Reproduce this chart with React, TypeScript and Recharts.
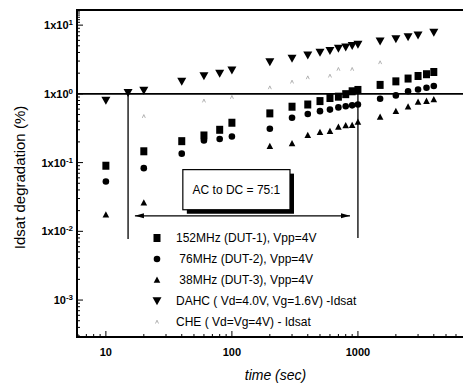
import React from 'react';
import { ComposedChart, Scatter, XAxis, YAxis, ReferenceLine, ReferenceArea, Legend } from 'recharts';

const FONT = "Arial, 'Liberation Sans', Helvetica, sans-serif";

// ---- data (time in sec, Idsat degradation in %) ----
const times152 = [10, 20, 40, 60, 80, 100, 200, 300, 400, 500, 600, 700, 800, 900, 1000, 1500, 2000, 2500, 3000, 3500, 4000];
const vals152 = [0.09, 0.146, 0.205, 0.248, 0.3, 0.38, 0.52, 0.65, 0.7, 0.785, 0.87, 0.91, 0.99, 1.09, 1.14, 1.35, 1.52, 1.67, 1.82, 1.93, 2.08];

const times76 = [10, 20, 40, 60, 80, 100, 200, 300, 400, 500, 600, 700, 800, 900, 1000, 1500, 2000, 2500, 3000, 3500, 4000];
const vals76 = [0.053, 0.083, 0.135, 0.21, 0.22, 0.24, 0.31, 0.45, 0.51, 0.56, 0.59, 0.635, 0.66, 0.68, 0.7, 0.85, 0.95, 1.09, 1.16, 1.23, 1.3];

const times38 = [10, 20, 200, 300, 400, 500, 600, 700, 800, 900, 1000, 1500, 2000, 2500, 3000, 3500, 4000];
const vals38 = [0.0174, 0.026, 0.173, 0.19, 0.25, 0.277, 0.286, 0.33, 0.347, 0.35, 0.39, 0.46, 0.56, 0.65, 0.76, 0.785, 0.83];

const timesDAHC = [10, 15, 20, 40, 60, 80, 100, 200, 300, 400, 500, 600, 700, 800, 900, 1000, 1500, 2000, 2500, 3000, 4000];
const valsDAHC = [0.8, 1.04, 1.12, 1.51, 1.82, 1.97, 2.2, 2.91, 3.27, 3.65, 3.99, 4.22, 4.57, 4.77, 4.99, 5.2, 5.84, 6.25, 6.68, 7.14, 7.82];

const timesCHE = [20, 60, 100, 200, 300, 400, 600, 700, 900, 1500];
const valsCHE = [0.47, 0.79, 0.89, 1.23, 1.49, 1.72, 1.82, 2.28, 2.28, 2.85];

// ---- axes ----
const xDomain = [5.9, 7750];
const yDomain = [0.00029, 16.6];
const xMajor = [10, 100, 1000];
const xTickLabels = ['10', '100', '1000'];
const xMinor = [6, 7, 8, 9, 20, 30, 40, 50, 60, 70, 80, 90, 200, 300, 400, 500, 600, 700, 800, 900, 2000, 3000, 4000, 5000, 6000, 7000];
const yMajor = [0.001, 0.01, 0.1, 1, 10];
const yLabelBase = ['10', '1x10', '1x10', '1x10', '1x10'];
const yLabelExp = ['-3', '-2', '-1', '0', '1'];
const yMinor = [
  0.0003, 0.0004, 0.0005, 0.0006, 0.0007, 0.0008, 0.0009,
  0.002, 0.003, 0.004, 0.005, 0.006, 0.007, 0.008, 0.009,
  0.02, 0.03, 0.04, 0.05, 0.06, 0.07, 0.08, 0.09,
  0.2, 0.3, 0.4, 0.5, 0.6, 0.7, 0.8, 0.9,
  2, 3, 4, 5, 6, 7, 8, 9, 11, 12, 13, 14, 15, 16,
];
const xTicks = [...xMajor, ...xMinor].sort((a, b) => a - b);
const yTicks = [...yMajor, ...yMinor].sort((a, b) => a - b);

// ---- annotations ----
const acBox = { x1: 40.8, x2: 289, y1: 0.0206, y2: 0.079, text: 'AC to DC = 75:1' };
const arrow = { x1: 17, x2: 865, y: 0.0168 };
const vLines = [
  { x: 15, yTop: 1, yBottom: 0.0077 },
  { x: 1000, yTop: 1, yBottom: 0.008 },
];

const zip = (t: number[], v: number[]) => t.map((time, i) => ({ time, value: v[i] }));
const d152 = zip(times152, vals152);
const d76 = zip(times76, vals76);
const d38 = zip(times38, vals38);
const dDAHC = zip(timesDAHC, valsDAHC);
const dCHE = zip(timesCHE, valsCHE);

const majorIndex = (arr: number[], v: number) => arr.findIndex((m) => Math.abs(m - v) / m < 1e-6);

// ---- marker shapes ----
const Square = ({ cx, cy }: any) => <rect x={cx - 3.5} y={cy - 4} width={7} height={8} fill="#000" />;
const Dot = ({ cx, cy }: any) => <circle cx={cx} cy={cy} r={3.3} fill="#000" />;
const TriUp = ({ cx, cy }: any) => (
  <path d={`M${cx},${cy - 3.5} L${cx + 3.3},${cy + 2.8} L${cx - 3.3},${cy + 2.8} Z`} fill="#000" />
);
const TriDown = ({ cx, cy }: any) => (
  <path d={`M${cx - 4.5},${cy - 3.8} L${cx + 4.5},${cy - 3.8} L${cx},${cy + 4.2} Z`} fill="#000" />
);
const CheMark = ({ cx, cy }: any) => (
  <path d={`M${cx - 1.5},${cy + 1.5} L${cx},${cy - 1.8} L${cx + 1.5},${cy + 1.5}`} fill="none" stroke="#aaa" strokeWidth={0.9} />
);

const legendItems = [
  { name: '152MHz (DUT-1), Vpp=4V', Shape: Square },
  { name: ' 76MHz (DUT-2), Vpp=4V', Shape: Dot },
  { name: ' 38MHz (DUT-3), Vpp=4V', Shape: TriUp },
  { name: 'DAHC ( Vd=4.0V, Vg=1.6V) -Idsat', Shape: TriDown },
  { name: 'CHE ( Vd=Vg=4V) - Idsat', Shape: CheMark },
];

// ---- ticks ----
const XTickBottom = (props: any) => {
  const { x, y, payload } = props;
  const i = majorIndex(xMajor, payload.value);
  const len = i >= 0 ? 6 : 3;
  return (
    <g>
      <line x1={x} x2={x} y1={y} y2={y - len} stroke="#000" strokeWidth={1} />
      {i >= 0 && (
        <text x={x} y={y + 19} textAnchor="middle" fontSize={11} fontWeight="bold" fontFamily={FONT} fill="#000">
          {xTickLabels[i]}
        </text>
      )}
    </g>
  );
};
const XTickTop = (props: any) => {
  const { x, y, payload } = props;
  const i = majorIndex(xMajor, payload.value);
  const len = i >= 0 ? 6 : 3;
  return <line x1={x} x2={x} y1={y} y2={y + len} stroke="#000" strokeWidth={1} />;
};
const YTickLeft = (props: any) => {
  const { x, y, payload } = props;
  const i = majorIndex(yMajor, payload.value);
  const len = i >= 0 ? 6 : 3;
  return (
    <g>
      <line x1={x} x2={x + len} y1={y} y2={y} stroke="#000" strokeWidth={1} />
      {i >= 0 && (
        <text x={x - 4} y={y + 4} textAnchor="end" fontSize={11} fontWeight="bold" fontFamily={FONT} fill="#000">
          <tspan>{yLabelBase[i]}</tspan>
          <tspan dy={-4} fontSize={8}>{yLabelExp[i]}</tspan>
        </text>
      )}
    </g>
  );
};
const YTickRight = (props: any) => {
  const { x, y, payload } = props;
  const i = majorIndex(yMajor, payload.value);
  const len = i >= 0 ? 6 : 3;
  return <line x1={x} x2={x - len} y1={y} y2={y} stroke="#000" strokeWidth={1} />;
};

const ArrowShape = (props: any) => {
  const { x1, y1, x2, y2 } = props;
  return (
    <g>
      <line x1={x1} y1={y1} x2={x2} y2={y2} stroke="#000" strokeWidth={1.3} />
      <path d={`M${x1},${y1} L${x1 + 9},${y1 - 2.5} L${x1 + 9},${y1 + 2.5} Z`} fill="#000" />
      <path d={`M${x2},${y2} L${x2 - 9},${y2 - 2.5} L${x2 - 9},${y2 + 2.5} Z`} fill="#000" />
    </g>
  );
};

const BoxShape = (props: any) => {
  const { x, y, width, height } = props;
  return (
    <g>
      <rect x={x + 4} y={y + 4} width={width} height={height} fill="#000" />
      <rect x={x} y={y} width={width} height={height} fill="#fff" stroke="#000" strokeWidth={1.2} />
      <text x={x + width / 2} y={y + height / 2 + 4} textAnchor="middle" fontSize={12} fontFamily={FONT} fill="#000">
        {acBox.text}
      </text>
    </g>
  );
};

const FrameShape = (props: any) => {
  const { x, y, width, height } = props;
  return <rect x={x} y={y} width={width} height={height} fill="none" stroke="#000" strokeWidth={2} />;
};

const LegendContent = () => (
  <div style={{ fontFamily: FONT, fontSize: 12, color: '#000' }}>
    {legendItems.map((it, i) => (
      <div key={i} style={{ display: 'flex', alignItems: 'center', height: 21 }}>
        <svg width={14} height={14} style={{ display: 'block' }}>
          <it.Shape cx={7} cy={7} />
        </svg>
        <span style={{ marginLeft: 12, whiteSpace: 'pre' }}>{it.name}</span>
      </div>
    ))}
  </div>
);

const YLabel = (props: any) => {
  const { viewBox } = props;
  const cx = viewBox.x + 13;
  const cy = viewBox.y + viewBox.height / 2 + 4;
  return (
    <text x={cx} y={cy} transform={`rotate(-90 ${cx} ${cy})`} textAnchor="middle" dominantBaseline="middle" fontSize={15} fontFamily={FONT} fill="#000">
      Idsat degradation (%)
    </text>
  );
};
const XLabel = (props: any) => {
  const { viewBox } = props;
  const cx = viewBox.x + viewBox.width / 2 + 2;
  const cy = viewBox.y + viewBox.height - 5;
  return (
    <text x={cx} y={cy} textAnchor="middle" fontSize={14} fontStyle="italic" fontFamily={FONT} fill="#000">
      time (sec)
    </text>
  );
};

const axisLineStyle = { stroke: '#000', strokeWidth: 2 };

export default function App() {
  return (
    <ComposedChart width={463} height={377} margin={{ top: 1, right: 0, bottom: 0, left: 0 }}>
      <XAxis
        dataKey="time"
        type="number"
        scale="log"
        domain={xDomain}
        allowDataOverflow
        ticks={xTicks}
        interval={0}
        tick={<XTickBottom />}
        tickSize={0}
        tickMargin={0}
        tickLine={false}
        stroke="#000"
        axisLine={axisLineStyle}
        height={48}
        label={<XLabel />}
      />
      <XAxis
        xAxisId="top"
        orientation="top"
        type="number"
        scale="log"
        domain={xDomain}
        allowDataOverflow
        ticks={xTicks}
        interval={0}
        tick={<XTickTop />}
        tickSize={0}
        tickMargin={0}
        tickLine={false}
        stroke="#000"
        axisLine={axisLineStyle}
        height={1}
      />
      <YAxis
        dataKey="value"
        type="number"
        scale="log"
        domain={yDomain}
        allowDataOverflow
        ticks={yTicks}
        interval={0}
        tick={<YTickLeft />}
        tickSize={0}
        tickMargin={0}
        tickLine={false}
        stroke="#000"
        axisLine={axisLineStyle}
        width={69}
        label={<YLabel />}
      />
      <YAxis
        yAxisId="right"
        orientation="right"
        type="number"
        scale="log"
        domain={yDomain}
        allowDataOverflow
        ticks={yTicks}
        interval={0}
        tick={<YTickRight />}
        tickSize={0}
        tickMargin={0}
        tickLine={false}
        stroke="#000"
        axisLine={axisLineStyle}
        width={1}
      />
      <ReferenceArea
        x1={xDomain[0]}
        x2={xDomain[1]}
        y1={yDomain[0]}
        y2={yDomain[1]}
        shape={<FrameShape />}
        ifOverflow="visible"
      />
      <ReferenceLine y={1} stroke="#000" strokeWidth={1.6} />
      {vLines.map((l, i) => (
        <ReferenceLine
          key={i}
          segment={[
            { x: l.x, y: l.yTop },
            { x: l.x, y: l.yBottom },
          ]}
          stroke="#000"
          strokeWidth={1.3}
        />
      ))}
      <ReferenceLine
        segment={[
          { x: arrow.x1, y: arrow.y },
          { x: arrow.x2, y: arrow.y },
        ]}
        shape={<ArrowShape />}
      />
      <ReferenceArea x1={acBox.x1} x2={acBox.x2} y1={acBox.y1} y2={acBox.y2} shape={<BoxShape />} fillOpacity={1} />
      <Scatter name="CHE" data={dCHE} shape={<CheMark />} isAnimationActive={false} />
      <Scatter name="38MHz" data={d38} shape={<TriUp />} isAnimationActive={false} />
      <Scatter name="76MHz" data={d76} shape={<Dot />} isAnimationActive={false} />
      <Scatter name="152MHz" data={d152} shape={<Square />} isAnimationActive={false} />
      <Scatter name="DAHC" data={dDAHC} shape={<TriDown />} isAnimationActive={false} />
      <Legend
        layout="vertical"
        align="center"
        verticalAlign="middle"
        content={<LegendContent />}
        wrapperStyle={{ position: 'absolute', left: 142, top: 219, width: 'auto', height: 'auto' }}
      />
    </ComposedChart>
  );
}
